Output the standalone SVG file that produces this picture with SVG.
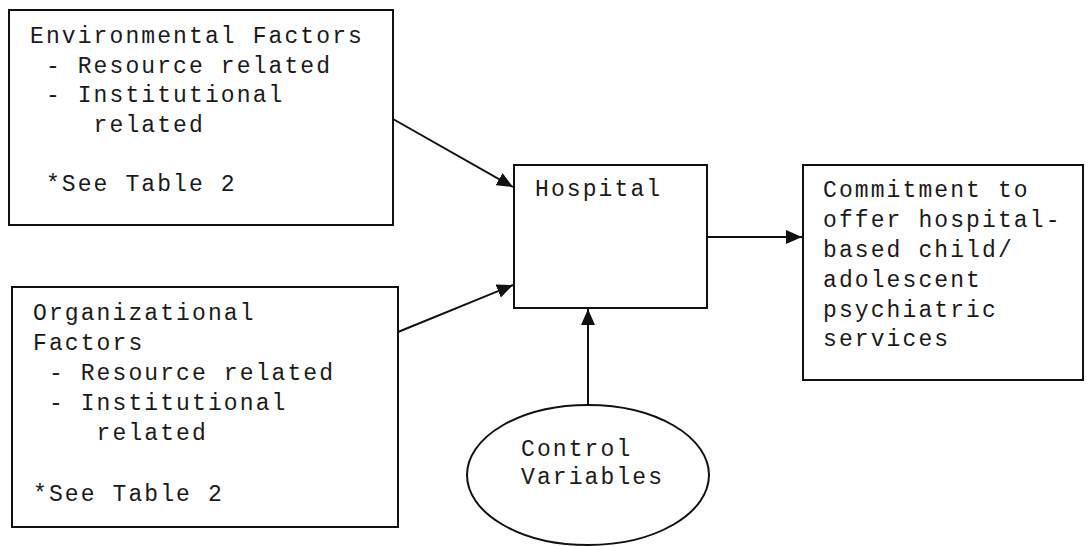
<svg xmlns="http://www.w3.org/2000/svg" width="1086" height="546" viewBox="0 0 1086 546">
  <style>
    .box { fill: #fff; stroke: #111; stroke-width: 2; }
    .lbl { font-family: "Liberation Mono", "Courier New", monospace; font-size: 23px; letter-spacing: 2.1px; fill: #1a1a1a; white-space: pre; }
    .edge { stroke: #111; stroke-width: 2; fill: none; marker-end: url(#arrow); }
  </style>
  <defs>
    <marker id="arrow" viewBox="0 0 16 14" refX="16" refY="7" markerWidth="16" markerHeight="14" markerUnits="userSpaceOnUse" orient="auto">
      <path d="M0,0 L16,7 L0,14 Z" fill="#111"/>
    </marker>
  </defs>
  <rect width="1086" height="546" fill="#fff"/>

  <g id="connectors">
    <line class="edge" x1="393" y1="119" x2="513" y2="187"/>
    <line class="edge" x1="398" y1="332" x2="513" y2="285"/>
    <line class="edge" x1="707" y1="237" x2="802" y2="237"/>
    <line class="edge" x1="588" y1="405" x2="588" y2="309"/>
  </g>

  <g id="environmental">
    <rect class="box" x="9" y="10" width="384" height="215"/>
    <text class="lbl" x="30" y="43">Environmental Factors</text>
    <text class="lbl" x="30" y="73"> - Resource related</text>
    <text class="lbl" x="30" y="102"> - Institutional</text>
    <text class="lbl" x="30" y="132">    related</text>
    <text class="lbl" x="30" y="191"> *See Table 2</text>
  </g>

  <g id="organizational">
    <rect class="box" x="12" y="287" width="386" height="240"/>
    <text class="lbl" x="33" y="320">Organizational</text>
    <text class="lbl" x="33" y="350">Factors</text>
    <text class="lbl" x="33" y="380"> - Resource related</text>
    <text class="lbl" x="33" y="410"> - Institutional</text>
    <text class="lbl" x="33" y="440">    related</text>
    <text class="lbl" x="33" y="501">*See Table 2</text>
  </g>

  <g id="hospital">
    <rect class="box" x="514" y="165" width="193" height="143"/>
    <text class="lbl" x="535" y="196">Hospital</text>
  </g>

  <g id="commitment">
    <rect class="box" x="803" y="165" width="280" height="215"/>
    <text class="lbl" x="823" y="197">Commitment to</text>
    <text class="lbl" x="823" y="227">offer hospital-</text>
    <text class="lbl" x="823" y="257">based child/</text>
    <text class="lbl" x="823" y="287">adolescent</text>
    <text class="lbl" x="823" y="317">psychiatric</text>
    <text class="lbl" x="823" y="346">services</text>
  </g>

  <g id="control">
    <ellipse class="box" cx="588" cy="475" rx="121" ry="70"/>
    <text class="lbl" x="521" y="456">Control</text>
    <text class="lbl" x="521" y="484">Variables</text>
  </g>
</svg>
